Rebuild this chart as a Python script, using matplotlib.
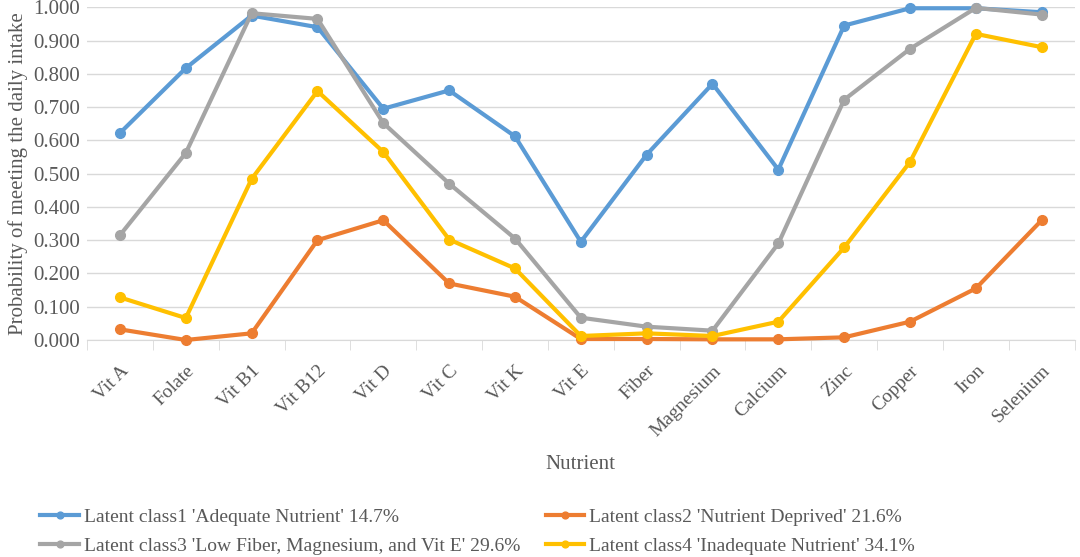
import matplotlib
matplotlib.use('Agg')
import matplotlib.pyplot as plt
import numpy as np

nutrients = ['Vit A', 'Folate', 'Vit B1', 'Vit B12', 'Vit D', 'Vit C', 'Vit K', 'Vit E',
             'Fiber', 'Magnesium', 'Calcium', 'Zinc', 'Copper', 'Iron', 'Selenium']

class1 = [0.622, 0.817, 0.975, 0.940, 0.695, 0.750, 0.612, 0.295,
          0.557, 0.770, 0.512, 0.945, 0.997, 0.997, 0.985]
class2 = [0.032, 0.000, 0.020, 0.300, 0.360, 0.170, 0.130, 0.003,
          0.003, 0.002, 0.002, 0.008, 0.055, 0.155, 0.360]
class3 = [0.315, 0.562, 0.982, 0.965, 0.652, 0.470, 0.305, 0.067,
          0.040, 0.028, 0.290, 0.722, 0.875, 0.998, 0.978]
class4 = [0.128, 0.066, 0.484, 0.748, 0.565, 0.302, 0.215, 0.012,
          0.020, 0.012, 0.055, 0.278, 0.535, 0.920, 0.880]

series = [
    ("Latent class1 'Adequate Nutrient' 14.7%", class1, '#5B9BD5'),
    ("Latent class2 'Nutrient Deprived' 21.6%", class2, '#ED7D31'),
    ("Latent class3 'Low Fiber, Magnesium, and Vit E' 29.6%", class3, '#A5A5A5'),
    ("Latent class4 'Inadequate Nutrient' 34.1%", class4, '#FFC000'),
]

plt.rcParams['font.family'] = ['Liberation Serif', 'DejaVu Serif']
TXT = '#595959'

fig = plt.figure(figsize=(10.8, 5.57), dpi=100)
ax = fig.add_axes([0.0806, 0.3896, 0.9144, 0.5974])

x = np.arange(len(nutrients))
lines = []
for label, vals, color in series:
    ln, = ax.plot(x, vals, color=color, lw=3, marker='o', ms=7, label=label,
                  clip_on=False, zorder=3)
    lines.append(ln)

ax.set_xlim(-0.5, len(nutrients) - 0.5)
ax.set_ylim(0, 1.0)
ax.set_yticks(np.arange(0, 1.01, 0.1))
ax.set_yticklabels(['%.3f' % v for v in np.arange(0, 1.01, 0.1)])
ax.grid(axis='y', color='#D9D9D9', lw=1)
ax.set_axisbelow(True)

ax.set_xticks(x)
ax.set_xticklabels(nutrients, rotation=45, ha='right', rotation_mode='anchor')
ax.set_xticks(np.arange(-0.5, len(nutrients), 1), minor=True)
ax.tick_params(axis='x', which='major', length=0, pad=16, labelsize=14, colors=TXT)
ax.tick_params(axis='x', which='minor', length=7, color='#D9D9D9')
ax.tick_params(axis='y', length=0, labelsize=15, colors=TXT, pad=5)

for s in ['top', 'right', 'left']:
    ax.spines[s].set_visible(False)
ax.spines['bottom'].set_color('#D9D9D9')

ax.set_ylabel('Probability of meeting the daily intake', fontsize=15, color=TXT, labelpad=4)
ax.set_xlabel('Nutrient', fontsize=15, color=TXT, labelpad=11)

# legend rows: class1, class2 / class3, class4 (filled column-wise)
order = [0, 2, 1, 3]
fig.legend([lines[i] for i in order], [series[i][0] for i in order], ncol=2,
           loc='lower left', bbox_to_anchor=(0.021, -0.028),
           frameon=False, fontsize=14, labelcolor=TXT, handlelength=2.0,
           columnspacing=1.3, handletextpad=0.25, labelspacing=0.6, markerscale=0.7)

fig.savefig('out.png', dpi=100)
